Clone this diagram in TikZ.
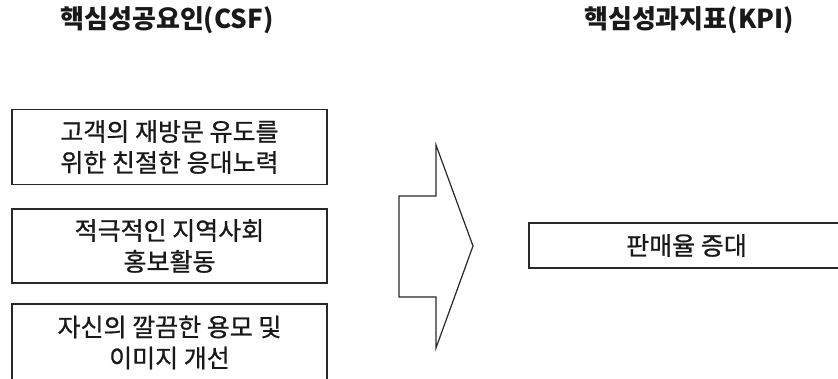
\documentclass[tikz,border=0pt]{standalone}
\usepackage{fontspec}
\setmainfont{Noto Sans CJK KR}
\newfontfamily\boxfont[FakeBold=0.8]{Noto Sans CJK KR}
\usetikzlibrary{positioning}
\definecolor{LineGray}{RGB}{40,40,40}
\definecolor{TextGray}{RGB}{25,25,25}

\begin{document}
\begin{tikzpicture}[x=1pt, y=-1pt,
    title/.style={font=\fontsize{26}{30}\selectfont\bfseries, text=TextGray, inner sep=0pt},
    csfbox/.style={draw=LineGray, line width=1.2pt, fill=white, minimum width=315pt, minimum height=75pt, align=center, text=TextGray, font=\boxfont\fontsize{25}{31}\selectfont},
    kpibox/.style={csfbox, minimum height=45pt}]
    \useasboundingbox (0,0) rectangle (838,378);
    \clip (0,0) rectangle (838,378);
                % Titulos
                \node[title] (csft) at (167,20) {핵심성공요인(CSF)};
                \node[title] (kpit) at (689,20) {핵심성과지표(KPI)};

                % Cajas
                \node[csfbox] (c1) at (169.5,147) {고객의 재방문 유도를\\위한 친절한 응대노력};
                \node[csfbox, minimum height=74pt] (c2) at (169.5,246) {적극적인 지역사회\\홍보활동};
                \node[csfbox, minimum height=77pt] (c3) at (169.5,342.5) {자신의 깔끔한 용모 및\\이미지 개선};
                \node[kpibox] (k1) at (686.5,245.5) {판매율 증대};

                % Flecha
                \draw[LineGray, line width=1.2pt, line join=miter]
                    (399,196) -- (436,196) -- (436,145) -- (473,246)
                    -- (436,348) -- (436,297) -- (399,297) -- cycle;
            \end{tikzpicture}
\end{document}
